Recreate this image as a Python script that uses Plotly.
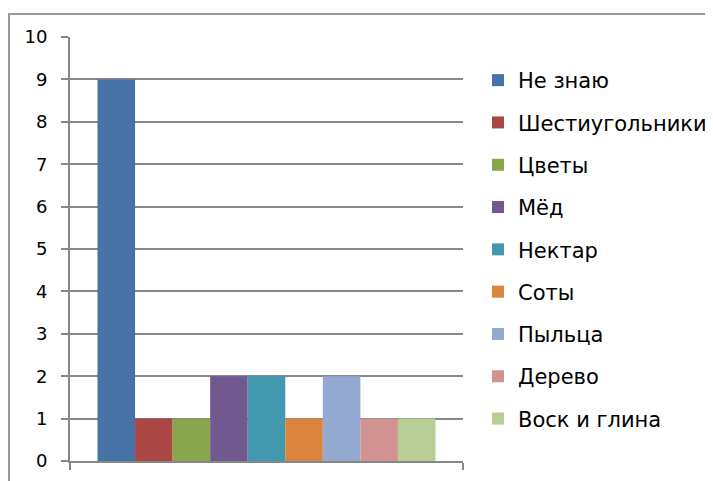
import plotly.graph_objects as go

series = ["Не знаю", "Шестиугольники", "Цветы", "Мёд", "Нектар",
          "Соты", "Пыльца", "Дерево", "Воск и глина"]
values = [9, 1, 1, 2, 2, 1, 2, 1, 1]
colors = ["#4672A8", "#AA4744", "#89A54E", "#71588F", "#4198AF",
          "#DB843D", "#93A9CF", "#D19392", "#B9CD96"]
category = ["Ответы"]
y_ticks = list(range(0, 11))

# the page body adds an 8px offset, so figure coordinates are page - 8
OFF = 8
W, H = 713 - OFF, 481 - OFF
L, R, T, B = 70 - OFF, 463 - OFF, 37 - OFF, 461 - OFF

fig = go.Figure()
for i, (name, v, c) in enumerate(zip(series, values, colors)):
    fig.add_trace(go.Bar(
        x=category, y=[v], name=name,
        marker=dict(color=c, line=dict(width=0)),
        legendgroup=f"g{i}",
    ))

pw, ph = R - L, B - T
fig.add_shape(type="rect", xref="paper", yref="paper",
              x0=(9 - OFF - L) / pw, x1=(W + 20 - L) / pw,
              y0=-(H + 20 - B) / ph, y1=1 + (T - (14 - OFF)) / ph,
              line=dict(color="#9A9A9A", width=2), fillcolor="rgba(0,0,0,0)",
              layer="below")

fig.update_layout(
    width=W, height=H,
    margin=dict(l=L, r=W - R, t=T, b=H - B, pad=0, autoexpand=False),
    paper_bgcolor="white", plot_bgcolor="white",
    barmode="group", bargap=0.14, bargroupgap=0,
    font=dict(family="DejaVu Sans", color="#000000"),
    showlegend=True,
    legend=dict(
        x=(478 - OFF - L) / pw, xanchor="left",
        y=1 - (60 - OFF - T) / ph, yanchor="top",
        font=dict(size=21, family="DejaVu Sans"),
        traceorder="grouped", tracegroupgap=12,
        bgcolor="rgba(0,0,0,0)", borderwidth=0,
    ),
    xaxis=dict(
        showticklabels=False, showgrid=False, zeroline=False,
        showline=True, linecolor="#878787", linewidth=2,
        ticks="outside", ticklen=7, tickcolor="#878787", tickwidth=2,
        tickson="boundaries", range=[-0.5, 0.5],
    ),
    yaxis=dict(
        range=[0, 10], tickvals=y_ticks,
        showgrid=True, gridcolor="#878787", gridwidth=2,
        zeroline=False,
        showline=True, linecolor="#878787", linewidth=2,
        ticks="outside", ticklen=7, tickcolor="#878787", tickwidth=2,
        tickfont=dict(size=18, family="DejaVu Sans", color="#000000"),
        ticklabelstandoff=10,
    ),
)

fig.write_html("out.html")
